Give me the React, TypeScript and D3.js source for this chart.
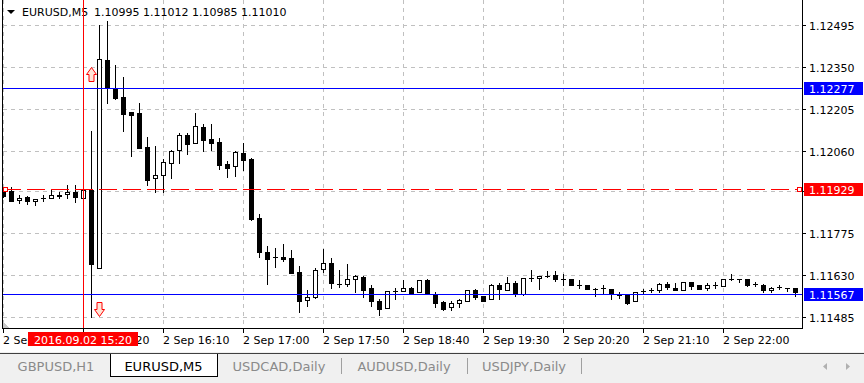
import React from "react";
import * as d3 from "d3";

// ---------- DATA ----------
const opens = [
  1.11921, 1.11921, 1.11889, 1.11901, 1.11886, 1.11897, 1.11896, 1.11906, 1.1191, 1.11918,
  1.11898, 1.11925, 1.11654, 1.12374, 1.12276, 1.12246, 1.12195, 1.12191, 1.12073, 1.11965,
  1.11976, 1.12017, 1.12062, 1.12115, 1.12086, 1.12143, 1.12101, 1.12091, 1.12015, 1.12007,
  1.12053, 1.12032, 1.11827, 1.1171, 1.11692, 1.11693, 1.1169, 1.11641, 1.11544, 1.11554,
  1.11651, 1.11673, 1.11601, 1.11601, 1.11616, 1.11625, 1.11585, 1.1154, 1.11516, 1.11577,
  1.11576, 1.11586, 1.11571, 1.11613, 1.11564, 1.11537, 1.11519, 1.11533, 1.1154, 1.11578,
  1.11558, 1.11548, 1.11596, 1.1158, 1.11603, 1.11564, 1.11622, 1.1162, 1.11629, 1.1163,
  1.11616, 1.11618, 1.11597, 1.11598, 1.11584, 1.11585, 1.11583, 1.11563, 1.11562, 1.1154,
  1.11575, 1.11578, 1.11579, 1.11599, 1.11587, 1.1158, 1.11606, 1.11597, 1.11585, 1.11597,
  1.11592, 1.11617, 1.11616, 1.11617, 1.11599, 1.11596, 1.1158, 1.1159, 1.11588, 1.11587,
];
const highs = [
  1.11932, 1.11934, 1.11907, 1.11904, 1.11894, 1.11907, 1.11927, 1.11918, 1.11941, 1.11941,
  1.11926, 1.12128, 1.12496, 1.1251, 1.12357, 1.12315, 1.12195, 1.12226, 1.12108, 1.12076,
  1.12032, 1.12064, 1.12123, 1.12123, 1.12191, 1.12155, 1.12154, 1.12105, 1.12025, 1.12061,
  1.12088, 1.12036, 1.11842, 1.11731, 1.11724, 1.11738, 1.11717, 1.11662, 1.11579, 1.11656,
  1.1172, 1.11691, 1.11648, 1.11669, 1.11631, 1.11629, 1.11597, 1.11547, 1.11575, 1.11586,
  1.11614, 1.11591, 1.11614, 1.11619, 1.11572, 1.11542, 1.1154, 1.1155, 1.11579, 1.11583,
  1.11558, 1.116, 1.11602, 1.11624, 1.11609, 1.1162, 1.11647, 1.11627, 1.11645, 1.11644,
  1.11636, 1.11618, 1.11613, 1.11598, 1.11587, 1.11598, 1.11583, 1.11574, 1.11562, 1.11571,
  1.11583, 1.11587, 1.11605, 1.11606, 1.11602, 1.11606, 1.11606, 1.11597, 1.11604, 1.11606,
  1.11616, 1.11635, 1.11616, 1.11617, 1.11607, 1.116, 1.11589, 1.11598, 1.11588, 1.11588,
];
const lows = [
  1.11901, 1.11887, 1.11881, 1.11878, 1.11874, 1.11888, 1.11896, 1.11898, 1.11898, 1.11884,
  1.11898, 1.11485, 1.11654, 1.12227, 1.12239, 1.1213, 1.12043, 1.1207, 1.11942, 1.11919,
  1.11917, 1.11967, 1.12019, 1.12048, 1.12086, 1.1206, 1.12063, 1.11999, 1.11971, 1.11973,
  1.11994, 1.11821, 1.11694, 1.11601, 1.1166, 1.11679, 1.11639, 1.11504, 1.11525, 1.11551,
  1.11643, 1.11585, 1.11591, 1.11593, 1.11572, 1.11556, 1.11525, 1.11493, 1.11516, 1.11549,
  1.11576, 1.1157, 1.11571, 1.11565, 1.11522, 1.11509, 1.11509, 1.11521, 1.1154, 1.11547,
  1.1154, 1.11548, 1.1155, 1.1158, 1.1156, 1.11562, 1.11611, 1.11584, 1.11624, 1.1161,
  1.11597, 1.11595, 1.11587, 1.11583, 1.1156, 1.11567, 1.1155, 1.11552, 1.11531, 1.1154,
  1.11565, 1.11571, 1.11574, 1.11583, 1.11579, 1.1158, 1.11584, 1.11582, 1.11581, 1.11587,
  1.11592, 1.11614, 1.11606, 1.11594, 1.11592, 1.11571, 1.11574, 1.11583, 1.11576, 1.11559,
];
const closes = [
  1.11904, 1.11888, 1.11897, 1.11888, 1.11894, 1.11898, 1.11907, 1.11907, 1.11917, 1.11902,
  1.11925, 1.11668, 1.12377, 1.12278, 1.12244, 1.12188, 1.12185, 1.12071, 1.1196, 1.11976,
  1.12022, 1.1206, 1.12115, 1.12085, 1.12145, 1.12099, 1.12088, 1.12012, 1.12002, 1.12056,
  1.1203, 1.11825, 1.11712, 1.11687, 1.11692, 1.11687, 1.11639, 1.11542, 1.11554, 1.11647,
  1.11672, 1.11603, 1.11601, 1.11616, 1.11628, 1.1158, 1.1154, 1.11515, 1.11575, 1.11577,
  1.11585, 1.1157, 1.11613, 1.11565, 1.11535, 1.11515, 1.11533, 1.11545, 1.11578, 1.11556,
  1.1154, 1.11596, 1.11584, 1.11603, 1.11564, 1.1162, 1.11622, 1.11627, 1.11629, 1.11616,
  1.11616, 1.11595, 1.11597, 1.11583, 1.11584, 1.11585, 1.11567, 1.11563, 1.11535, 1.11571,
  1.11575, 1.11578, 1.11599, 1.11589, 1.11579, 1.11606, 1.11593, 1.11582, 1.11595, 1.11597,
  1.11616, 1.11617, 1.11616, 1.11596, 1.11599, 1.11578, 1.11588, 1.1159, 1.11588, 1.11572,
];

const timeLabels = [
  "2 Sep 14:30", "2 Sep 15:20", "2 Sep 16:10", "2 Sep 17:00", "2 Sep 17:50",
  "2 Sep 18:40", "2 Sep 19:30", "2 Sep 20:20", "2 Sep 21:10", "2 Sep 22:00",
];
const timeLabelIndex = [0, 10, 20, 30, 40, 50, 60, 70, 80, 90];

const priceTicks = [1.12495, 1.1235, 1.12205, 1.1206, 1.1192, 1.11775, 1.1163, 1.11485];
const priceTickLabels = ["1.12495", "1.12350", "1.12205", "1.12060", "", "1.11775", "1.11630", "1.11485"];

const blueLevels = [1.12277, 1.11567];
const blueLevelLabels = ["1.12277", "1.11567"];
const bidLevel = 1.11929;
const bidLabel = "1.11929";

const headerSymbol = "EURUSD,M5";
const headerValues = "1.10995 1.11012 1.10985 1.11010";

const crossIndex = 10;
const crossLabel = "2016.09.02 15:20";

const buyArrow = { index: 11, price: 1.12351 };
const sellArrow = { index: 12, price: 1.11537 };

const tabNames = ["GBPUSD,H1", "EURUSD,M5", "USDCAD,Daily", "AUDUSD,Daily", "USDJPY,Daily"];
const activeTab = 1;

// ---------- LAYOUT ----------
const W = 864;
const H = 383;
const plotL = 3;
const plotR = 802;
const plotB = 328;
const FONT = "'DejaVu Sans', Tahoma, sans-serif";
const tabEdges = [2, 110, 217, 341, 467, 581];

export default function App() {
  const n = closes.length;
  const x = d3.scaleLinear().domain([0, n - 1]).range([3, 3 + 8 * (n - 1)]);
  const y = d3.scaleLinear().domain([1.11485, 1.12495]).range([317.3, 25.2]);
  const ry = (v: number) => Math.round(y(v));

  const candles = d3.range(n).map((i) => {
    const cx = Math.round(x(i));
    const o = opens[i], c = closes[i], h = highs[i], l = lows[i];
    const top = ry(Math.max(o, c));
    const bot = ry(Math.min(o, c));
    const wick = (
      <line key="w" x1={cx + 0.5} x2={cx + 0.5} y1={ry(h)} y2={ry(l) + 1} stroke="#000" strokeWidth={1} />
    );
    let body;
    if (bot - top < 1) {
      body = <line key="b" x1={cx - 2} x2={cx + 3} y1={top + 0.5} y2={top + 0.5} stroke="#000" strokeWidth={1} />;
    } else if (c > o) {
      body = (
        <rect key="b" x={cx - 2 + 0.5} y={top + 0.5} width={4} height={bot - top} fill="#fff" stroke="#000" strokeWidth={1} />
      );
    } else {
      body = <rect key="b" x={cx - 2} y={top} width={5} height={bot - top + 1} fill="#000" />;
    }
    return <g key={i}>{wick}{body}</g>;
  });

  const arrowPath = (cx: number, top: number, up: boolean) => {
    const hw = 5, sw = 2.5, hh = 7, len = 14;
    if (up) {
      return `M${cx},${top} L${cx + hw},${top + hh} L${cx + sw},${top + hh} L${cx + sw},${top + len} L${cx - sw},${top + len} L${cx - sw},${top + hh} L${cx - hw},${top + hh} Z`;
    }
    const b = top + len;
    return `M${cx},${b} L${cx + hw},${b - hh} L${cx + sw},${b - hh} L${cx + sw},${top} L${cx - sw},${top} L${cx - sw},${b - hh} L${cx - hw},${b - hh} Z`;
  };

  const crossX = Math.round(x(crossIndex));
  const bidY = Math.round(y(bidLevel)) + 0.5;

  return (
    <svg
      width={W}
      height={H}
      style={{ position: "fixed", left: 0, top: 0, background: "#fff" }}
      shapeRendering="crispEdges"
      fontFamily={FONT}
    >
      <defs>
        <clipPath id="plot">
          <rect x={plotL} y={0} width={plotR - plotL} height={plotB} />
        </clipPath>
      </defs>
      <rect x={0} y={0} width={W} height={H} fill="#fff" />

      <g clipPath="url(#plot)">
        {/* grid */}
        {priceTicks.map((p, i) => (
          <line key={"hg" + i} x1={plotL} x2={plotR} y1={ry(p) + 0.5} y2={ry(p) + 0.5} stroke="#c0c0c0" strokeDasharray="4,4" />
        ))}
        {timeLabelIndex.map((ix, i) => (
          <line key={"vg" + i} x1={Math.round(x(ix)) + 0.5} x2={Math.round(x(ix)) + 0.5} y1={0} y2={plotB} stroke="#c0c0c0" strokeDasharray="4,4" />
        ))}

        {candles}

        {/* levels */}
        {blueLevels.map((p, i) => (
          <line key={"bl" + i} x1={plotL} x2={plotR} y1={ry(p) + 0.5} y2={ry(p) + 0.5} stroke="#0000ff" />
        ))}
        <line x1={plotL} x2={plotR - 5} y1={bidY} y2={bidY} stroke="#ff0000" strokeDasharray="18,6" />
        <rect x={3.5} y={bidY - 2} width={4} height={4} fill="#fff" stroke="#ff0000" />
        <rect x={797.5} y={bidY - 2} width={4} height={4} fill="#fff" stroke="#ff0000" />

        {/* trade arrows */}
        <path d={arrowPath(Math.round(x(buyArrow.index)) + 0.5, ry(buyArrow.price) + 0.5, true)} fill="#ffe4d6" stroke="#ff0000" shapeRendering="auto" />
        <path d={arrowPath(Math.round(x(sellArrow.index)) + 0.5, ry(sellArrow.price) + 0.5, false)} fill="#ffe4d6" stroke="#ff0000" shapeRendering="auto" />

        {/* header */}
        <path d="M7,10 L15,10 L11,14 Z" fill="#000" shapeRendering="auto" />
        <text x={22} y={16} fontSize={11} fill="#000">{headerSymbol}</text>
        <text x={94} y={16} fontSize={11} fill="#000">{headerValues}</text>

        {/* crosshair vertical */}
        <line x1={crossX + 0.5} x2={crossX + 0.5} y1={0} y2={plotB} stroke="#ff0000" />

        {/* chart shift marker */}
        <path d={`M${plotL},${plotB - 6} L${plotL},${plotB} L${plotL + 6},${plotB} Z`} fill="#c8c8c8" />
      </g>

      {/* frame */}
      <line x1={2.5} x2={2.5} y1={0} y2={plotB + 0.5} stroke="#000" />
      <line x1={plotR + 0.5} x2={plotR + 0.5} y1={0} y2={plotB + 0.5} stroke="#000" />
      <line x1={2} x2={plotR + 1} y1={plotB + 0.5} y2={plotB + 0.5} stroke="#000" />

      {/* price axis */}
      {priceTicks.map((p, i) => (
        <g key={"pt" + i}>
          <line x1={plotR + 1} x2={plotR + 4} y1={ry(p) + 0.5} y2={ry(p) + 0.5} stroke="#000" />
          {priceTickLabels[i] && (
            <text x={809} y={ry(p) + 4.5} fontSize={11} fill="#000">{priceTickLabels[i]}</text>
          )}
        </g>
      ))}
      {blueLevels.map((p, i) => (
        <g key={"blb" + i}>
          <rect x={804} y={ry(p) - 6} width={59} height={13} fill="#0000ff" />
          <text x={809} y={ry(p) + 4.5} fontSize={11} fill="#fff">{blueLevelLabels[i]}</text>
        </g>
      ))}
      <rect x={804} y={Math.round(y(bidLevel)) - 6} width={59} height={13} fill="#ff0000" />
      <text x={809} y={Math.round(y(bidLevel)) + 4.5} fontSize={11} fill="#fff">{bidLabel}</text>

      {/* time axis */}
      {timeLabelIndex.map((ix, i) => {
        const tx = Math.round(x(ix));
        return (
          <g key={"tl" + i}>
            <line x1={tx + 0.5} x2={tx + 0.5} y1={plotB + 1} y2={plotB + 5} stroke="#000" />
            <text x={tx} y={344} fontSize={11} fill="#000">{timeLabels[i]}</text>
          </g>
        );
      })}
      <rect x={crossX - 55} y={332} width={110} height={14} fill="#ff0000" />
      <text x={crossX} y={344} fontSize={11} fill="#fff" textAnchor="middle">{crossLabel}</text>

      {/* tab bar */}
      <rect x={0} y={352} width={W} height={H - 352} fill="#f0f0f0" />
      <line x1={0} x2={W} y1={353.5} y2={353.5} stroke="#404040" />
      {tabNames.map((t, i) => {
        const x0 = tabEdges[i], x1 = tabEdges[i + 1];
        const active = i === activeTab;
        return (
          <g key={"tab" + i}>
            {active && (
              <path d={`M${x0 + 0.5},354 L${x0 + 0.5},${376.5} L${x1 + 0.5},${376.5} L${x1 + 0.5},354`} fill="#fff" stroke="#000" />
            )}
            {!active && i > activeTab + 1 && (
              <line x1={x0 + 0.5} x2={x0 + 0.5} y1={358} y2={374} stroke="#a0a0a0" />
            )}
            {!active && i === tabNames.length - 1 && (
              <line x1={x1 + 0.5} x2={x1 + 0.5} y1={358} y2={374} stroke="#a0a0a0" />
            )}
            <text x={(x0 + x1) / 2} y={371} fontSize={13} textAnchor="middle" fill={active ? "#000" : "#8a8a8a"}>
              {t}
            </text>
          </g>
        );
      })}
      <path d="M823,366.5 L827,363 L827,370 Z" fill="#b0b0b0" shapeRendering="auto" />
      <path d="M850,366.5 L846,363 L846,370 Z" fill="#b0b0b0" shapeRendering="auto" />
    </svg>
  );
}
